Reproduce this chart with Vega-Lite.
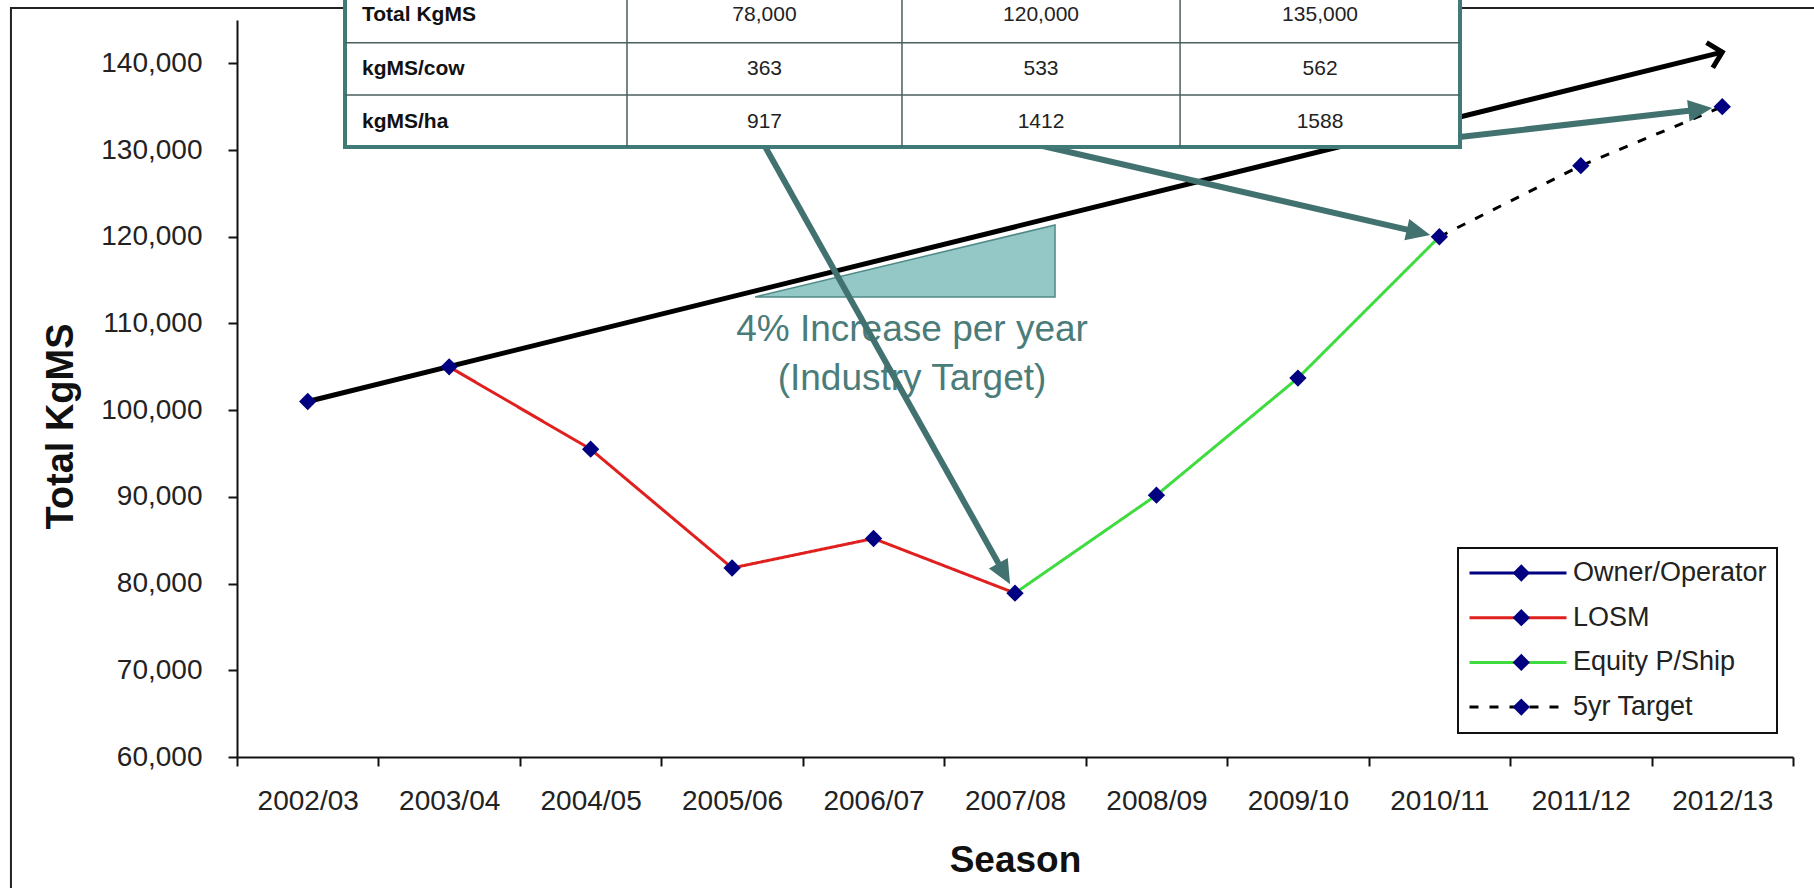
{
  "$schema": "https://vega.github.io/schema/vega-lite/v6.json",
  "width": 1556,
  "height": 737,
  "autosize": {"type": "none"},
  "padding": {"left": 237, "top": 20, "right": 21, "bottom": 131},
  "background": "white",
  "config": {"view": {"stroke": null}, "font": "Liberation Sans"},
  "datasets": {
    "lines": [
      {"series": "Owner/Operator", "season": "2002/03", "idx": 0, "kgms": 101000},
      {"series": "Owner/Operator", "season": "2003/04", "idx": 1, "kgms": 105000},
      {"series": "LOSM", "season": "2003/04", "idx": 1, "kgms": 105000},
      {"series": "LOSM", "season": "2004/05", "idx": 2, "kgms": 95500},
      {"series": "LOSM", "season": "2005/06", "idx": 3, "kgms": 81800},
      {"series": "LOSM", "season": "2006/07", "idx": 4, "kgms": 85200},
      {"series": "LOSM", "season": "2007/08", "idx": 5, "kgms": 78900},
      {"series": "Equity P/Ship", "season": "2007/08", "idx": 5, "kgms": 78900},
      {"series": "Equity P/Ship", "season": "2008/09", "idx": 6, "kgms": 90200},
      {"series": "Equity P/Ship", "season": "2009/10", "idx": 7, "kgms": 103700},
      {"series": "Equity P/Ship", "season": "2010/11", "idx": 8, "kgms": 120000},
      {"series": "5yr Target", "season": "2010/11", "idx": 8, "kgms": 120000},
      {"series": "5yr Target", "season": "2011/12", "idx": 9, "kgms": 128200},
      {"series": "5yr Target", "season": "2012/13", "idx": 10, "kgms": 135000}
    ],
    "points": [
      {"series": "Owner/Operator", "season": "2002/03", "idx": 0, "kgms": 101000},
      {"series": "Owner/Operator", "season": "2003/04", "idx": 1, "kgms": 105000},
      {"series": "LOSM", "season": "2004/05", "idx": 2, "kgms": 95500},
      {"series": "LOSM", "season": "2005/06", "idx": 3, "kgms": 81800},
      {"series": "LOSM", "season": "2006/07", "idx": 4, "kgms": 85200},
      {"series": "LOSM", "season": "2007/08", "idx": 5, "kgms": 78900},
      {"series": "Equity P/Ship", "season": "2008/09", "idx": 6, "kgms": 90200},
      {"series": "Equity P/Ship", "season": "2009/10", "idx": 7, "kgms": 103700},
      {"series": "Equity P/Ship", "season": "2010/11", "idx": 8, "kgms": 120000},
      {"series": "5yr Target", "season": "2011/12", "idx": 9, "kgms": 128200},
      {"series": "5yr Target", "season": "2012/13", "idx": 10, "kgms": 135000}
    ]
  },
  "encoding": {
    "x": {
      "field": "idx", "type": "quantitative",
      "scale": {"domain": [-0.5, 10.5], "nice": false, "zero": false},
      "axis": {
        "title": "Season",
        "values": [-0.5, 0, 0.5, 1, 1.5, 2, 2.5, 3, 3.5, 4, 4.5, 5, 5.5, 6, 6.5, 7, 7.5, 8, 8.5, 9, 9.5, 10, 10.5],
        "labelExpr": "datum.value % 1 === 0 ? ['2002/03','2003/04','2004/05','2005/06','2006/07','2007/08','2008/09','2009/10','2010/11','2011/12','2012/13'][datum.value] : ''",
        "labelOverlap": false, "labelFlush": false, "labelBound": false,
        "grid": false,
        "domainColor": "#111", "domainWidth": 2,
        "tickColor": "#111", "tickWidth": 2, "tickSize": 9,
        "tickOpacity": {"condition": {"test": "datum.value % 1 === 0", "value": 0}, "value": 1},
        "labelFontSize": 28, "labelColor": "#222", "labelPadding": 21,
        "titleFontSize": 37, "titleFontWeight": "bold", "titleColor": "#111", "titlePadding": 27
      }
    },
    "y": {
      "field": "kgms", "type": "quantitative",
      "scale": {"domain": [60000, 145000], "nice": false, "zero": false},
      "axis": {
        "title": "Total KgMS",
        "values": [60000, 70000, 80000, 90000, 100000, 110000, 120000, 130000, 140000],
        "labelExpr": "format(datum.value, ',')",
        "grid": false,
        "domainColor": "#111", "domainWidth": 2,
        "tickColor": "#111", "tickWidth": 2, "tickSize": 9,
        "labelFontSize": 28, "labelColor": "#222", "labelPadding": 26,
        "titleFontSize": 38, "titleFontWeight": "bold", "titleColor": "#111", "titlePadding": 20,
        "titleY": 406
      }
    }
  },
  "layer": [
    {
      "data": {"values": [{"part": "chart frame", "idx": -2.098, "idx2": 11.5, "kgms": 40000, "kgms2": 146384}]},
      "mark": {"type": "rect", "filled": false, "stroke": "#222", "strokeWidth": 2},
      "encoding": {"x2": {"field": "idx2"}, "y2": {"field": "kgms2"}}
    },
    {
      "data": {"values": [
        {"part": "slope", "idx": 3.162, "kgms": 113054, "kgms2": 113054},
        {"part": "slope", "idx": 5.283, "kgms": 121357, "kgms2": 113054}
      ]},
      "mark": {"type": "area", "color": "#93c8c6", "opacity": 1, "stroke": "#4f8a87", "strokeWidth": 1.5},
      "encoding": {"y2": {"field": "kgms2"}}
    },
    {
      "data": {"values": [
        {"label": "4% Increase per year", "idx": 4.272, "kgms": 109248},
        {"label": "(Industry Target)", "idx": 4.272, "kgms": 103539}
      ]},
      "mark": {"type": "text", "fontSize": 37, "color": "#4a7c7a", "align": "center", "baseline": "middle"},
      "encoding": {"text": {"field": "label"}}
    },
    {
      "data": {"name": "lines"},
      "mark": {"type": "line", "strokeWidth": 3},
      "encoding": {
        "color": {
          "field": "series", "type": "nominal",
          "scale": {"domain": ["Owner/Operator", "LOSM", "Equity P/Ship", "5yr Target"], "range": ["#000080", "#e0201e", "#3fdc3f", "#000000"]},
          "legend": {"orient": "none", "legendX": 1221, "legendY": 528, "title": null, "symbolType": "stroke", "symbolSize": 9409, "symbolStrokeWidth": 3, "clipHeight": 30, "rowPadding": 14.7, "padding": 10, "labelFontSize": 27, "labelOffset": 5, "labelLimit": 400, "labelColor": "#222", "labelFont": "Liberation Sans", "strokeColor": "#111", "fillColor": "white", "symbolOffset": 0, "encode": {"legend": {"update": {"strokeWidth": {"value": 2}}}}}
        },
        "strokeDash": {
          "field": "series", "type": "nominal",
          "scale": {"domain": ["Owner/Operator", "LOSM", "Equity P/Ship", "5yr Target"], "range": [[1, 0], [1, 0], [1, 0], [9, 11]]},
          "legend": {"orient": "none", "legendX": 1221, "legendY": 528, "title": null, "symbolType": "stroke", "symbolSize": 9409, "symbolStrokeWidth": 3, "clipHeight": 30, "rowPadding": 14.7, "padding": 10, "labelFontSize": 27, "labelOffset": 5, "labelLimit": 400, "labelColor": "#222", "labelFont": "Liberation Sans", "strokeColor": "#111", "fillColor": "white", "symbolOffset": 0, "encode": {"legend": {"update": {"strokeWidth": {"value": 2}}}}}
        }
      }
    },
    {
      "data": {"values": [{"part": "4% per year trend", "idx": 0, "kgms": 101000, "idx2": 10, "kgms2": 141300}]},
      "mark": {"type": "rule", "color": "#000000", "strokeWidth": 5},
      "encoding": {"x2": {"field": "idx2"}, "y2": {"field": "kgms2"}}
    },
    {
      "data": {"values": [{"part": "trend arrow head", "idx": 10, "kgms": 141300}]},
      "mark": {"type": "point", "shape": "M-1,-1L0,0L-1,1", "angle": 346.1, "size": 676, "filled": false, "stroke": "#000000", "strokeWidth": 5, "opacity": 1, "strokeJoin": "miter"},
      "encoding": {}
    },
    {
      "data": {"name": "points"},
      "mark": {"type": "point", "filled": true, "color": "#000080", "size": 300, "opacity": 1, "strokeWidth": 0},
      "encoding": {
        "shape": {
          "field": "series", "type": "nominal",
          "sort": ["Owner/Operator", "LOSM", "Equity P/Ship", "5yr Target"],
          "scale": {"range": ["diamond", "diamond", "diamond", "diamond"]},
          "legend": {"orient": "none", "legendX": 1221, "legendY": 528, "title": null, "symbolSize": 300, "clipHeight": 30, "rowPadding": 14.7, "padding": 10, "labelFontSize": 27, "labelOffset": 0, "labelExpr": "''", "labelColor": "transparent", "labelFont": "Liberation Sans", "symbolOffset": 39.8, "symbolFillColor": "#000080", "symbolStrokeColor": "#000080", "symbolStrokeWidth": 0}
        }
      }
    },
    {
      "data": {"values": [
        {"arrow": "to 2007/08", "idx": 3.088, "kgms": 134620, "idx2": 4.899, "kgms2": 81868},
        {"arrow": "to 2010/11", "idx": 4.088, "kgms": 134620, "idx2": 7.803, "kgms2": 120700},
        {"arrow": "to 2012/13", "idx": 7.863, "kgms": 130976, "idx2": 9.794, "kgms2": 134597}
      ]},
      "mark": {"type": "rule", "color": "#42726f", "strokeWidth": 6},
      "encoding": {"x2": {"field": "idx2"}, "y2": {"field": "kgms2"}}
    },
    {
      "data": {"values": [{"arrow": "to 2007/08", "idx": 4.899, "kgms": 81868}]},
      "mark": {"type": "point", "shape": "M1.6,0L-0.4,-0.9L-0.4,0.9Z", "angle": 60.7, "size": 576, "filled": true, "color": "#42726f", "opacity": 1, "strokeWidth": 0},
      "encoding": {}
    },
    {
      "data": {"values": [{"arrow": "to 2010/11", "idx": 7.803, "kgms": 120700}]},
      "mark": {"type": "point", "shape": "M1.6,0L-0.4,-0.9L-0.4,0.9Z", "angle": 13.0, "size": 576, "filled": true, "color": "#42726f", "opacity": 1, "strokeWidth": 0},
      "encoding": {}
    },
    {
      "data": {"values": [{"arrow": "to 2012/13", "idx": 9.794, "kgms": 134597}]},
      "mark": {"type": "point", "shape": "M1.6,0L-0.4,-0.9L-0.4,0.9Z", "angle": 353.4, "size": 576, "filled": true, "color": "#42726f", "opacity": 1, "strokeWidth": 0},
      "encoding": {}
    },
    {
      "data": {"values": [{"part": "table", "idx": 0.2635, "idx2": 8.146, "kgms": 130353, "kgms2": 150000}]},
      "mark": {"type": "rect", "fill": "white", "stroke": "#3f7a76", "strokeWidth": 4},
      "encoding": {"x2": {"field": "idx2"}, "y2": {"field": "kgms2"}}
    },
    {
      "data": {"values": [
        {"part": "col", "idx": 2.257, "idx2": 2.257, "kgms": 130353, "kgms2": 150000},
        {"part": "col", "idx": 4.201, "idx2": 4.201, "kgms": 130353, "kgms2": 150000},
        {"part": "col", "idx": 6.167, "idx2": 6.167, "kgms": 130353, "kgms2": 150000},
        {"part": "row", "idx": 0.2635, "idx2": 8.146, "kgms": 142370, "kgms2": 142370},
        {"part": "row", "idx": 0.2635, "idx2": 8.146, "kgms": 136362, "kgms2": 136362}
      ]},
      "mark": {"type": "rule", "color": "#4a5f5e", "strokeWidth": 1.5},
      "encoding": {"x2": {"field": "idx2"}, "y2": {"field": "kgms2"}}
    },
    {
      "data": {"values": [
        {"text": "Total KgMS", "idx": 0.3837, "kgms": 145600},
        {"text": "kgMS/cow", "idx": 0.3837, "kgms": 139300},
        {"text": "kgMS/ha", "idx": 0.3837, "kgms": 133290}
      ]},
      "mark": {"type": "text", "font": "Liberation Sans", "fontWeight": "bold", "fontSize": 21, "color": "#111", "align": "left", "baseline": "middle"},
      "encoding": {"text": {"field": "text"}}
    },
    {
      "data": {"values": [
        {"text": "78,000", "idx": 3.229, "kgms": 145600},
        {"text": "120,000", "idx": 5.184, "kgms": 145600},
        {"text": "135,000", "idx": 7.1565, "kgms": 145600},
        {"text": "363", "idx": 3.229, "kgms": 139300},
        {"text": "533", "idx": 5.184, "kgms": 139300},
        {"text": "562", "idx": 7.1565, "kgms": 139300},
        {"text": "917", "idx": 3.229, "kgms": 133290},
        {"text": "1412", "idx": 5.184, "kgms": 133290},
        {"text": "1588", "idx": 7.1565, "kgms": 133290}
      ]},
      "mark": {"type": "text", "font": "Liberation Sans", "fontSize": 21, "color": "#222", "align": "center", "baseline": "middle"},
      "encoding": {"text": {"field": "text"}}
    }
  ]
}
